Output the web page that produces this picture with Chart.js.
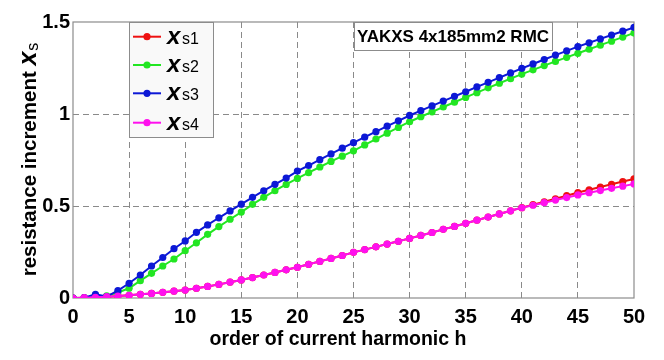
<!DOCTYPE html>
<html><head><meta charset="utf-8">
<script src="https://cdn.jsdelivr.net/npm/chart.js@4/dist/chart.umd.min.js"></script>
<style>html,body{margin:0;padding:0;background:#fff}#wrap{width:664px;height:360px}</style>
</head><body><div id="wrap"><canvas id="c" width="664" height="360"></canvas></div>
<script>
const harmonics = Array.from({length: 51}, (_, i) => i);
const xTicks = [0,5,10,15,20,25,30,35,40,45,50];
const yTicks = [0,0.5,1,1.5];
const seriesNames = ['s1','s2','s3','s4'];
const xs1 = [0,0.002,0.004,0.007,0.011,0.015,0.02,0.025,0.031,0.037,0.043,0.053,0.063,0.074,0.086,0.098,0.111,0.125,0.139,0.153,0.167,0.183,0.199,0.215,0.231,0.248,0.263,0.278,0.293,0.308,0.324,0.34,0.356,0.373,0.389,0.406,0.423,0.44,0.457,0.474,0.491,0.507,0.523,0.539,0.556,0.573,0.588,0.603,0.618,0.633,0.647];
const xs2 = [0,0,0.003,0.012,0.03,0.053,0.094,0.134,0.174,0.212,0.257,0.3,0.346,0.388,0.428,0.467,0.509,0.547,0.583,0.617,0.65,0.681,0.712,0.742,0.771,0.8,0.832,0.864,0.896,0.927,0.958,0.985,1.012,1.038,1.064,1.09,1.116,1.142,1.167,1.192,1.217,1.24,1.263,1.286,1.308,1.33,1.352,1.374,1.396,1.418,1.44];
const xs3 = [0,0.002,0.02,0.008,0.04,0.08,0.125,0.174,0.22,0.268,0.31,0.357,0.397,0.436,0.473,0.51,0.547,0.583,0.618,0.652,0.69,0.72,0.752,0.783,0.814,0.844,0.874,0.904,0.934,0.963,0.992,1.018,1.044,1.07,1.096,1.121,1.147,1.172,1.198,1.223,1.248,1.272,1.296,1.32,1.343,1.366,1.387,1.408,1.429,1.45,1.471];
const xs4 = [0,0.002,0.004,0.007,0.011,0.015,0.02,0.025,0.031,0.037,0.043,0.053,0.063,0.074,0.086,0.098,0.111,0.125,0.139,0.153,0.167,0.183,0.199,0.215,0.231,0.248,0.263,0.278,0.293,0.308,0.324,0.34,0.356,0.373,0.389,0.406,0.423,0.44,0.457,0.474,0.49,0.504,0.518,0.532,0.546,0.56,0.572,0.584,0.596,0.608,0.62];
const colors = ['#ee1111','#22e622','#0c18d6','#ff10ee'];
const allSeries = [xs1,xs2,xs3,xs4];
const yTitle = 'resistance increment ';
const xTitle = 'order of current harmonic h';
const boxText = 'YAKXS 4x185mm2 RMC';

const datasets = allSeries.map((s, k) => ({
  label: 'x' + seriesNames[k],
  data: harmonics.map((h, i) => ({x: h, y: s[i]})),
  borderColor: colors[k], backgroundColor: colors[k],
  borderWidth: 2, pointRadius: 3.6, pointHoverRadius: 3.6, pointBorderWidth: 0,
  order: 3 - k, tension: 0
}));

const FONT = "'Liberation Sans', Arial, sans-serif";

const deco = {
  id: 'deco',
  beforeDatasetsDraw(chart) {
    const {ctx, chartArea: a} = chart;
    ctx.save();
    ctx.strokeStyle = '#8c8c8c'; ctx.lineWidth = 1.2; ctx.setLineDash([]);
    ctx.strokeRect(a.left, a.top, a.right - a.left, a.bottom - a.top);
    ctx.restore();
  },
  afterDraw(chart) {
    const {ctx, chartArea: a} = chart;
    ctx.save();
    // x title
    ctx.fillStyle = '#000';
    ctx.font = 'bold 19.5px ' + FONT; ctx.textAlign = 'center'; ctx.textBaseline = 'middle';
    ctx.fillText(xTitle, 338, 340);
    // y title
    ctx.translate(36, (a.top + a.bottom) / 2);
    ctx.rotate(-Math.PI / 2);
    ctx.textBaseline = 'alphabetic';
    const f1 = 'bold 20.5px ' + FONT, f2 = 'bold italic 25px ' + FONT, f3 = '16px ' + FONT;
    ctx.font = f1; const w1 = ctx.measureText(yTitle).width;
    ctx.font = f2; const w2 = ctx.measureText('x').width;
    ctx.font = f3; const w3 = ctx.measureText('s').width;
    let x0 = -(w1 + w2 + w3) / 2;
    ctx.font = f1; ctx.textAlign = 'left'; ctx.fillText(yTitle, x0, 0);
    ctx.font = f2; ctx.fillText('x', x0 + w1, 0);
    ctx.font = f3; ctx.fillText('s', x0 + w1 + w2 + 1, 2);
    ctx.restore();

    // legend
    ctx.save();
    const lx = 129, ly = a.top, lw = 84, lh = 115;
    ctx.fillStyle = '#f9f9f9'; ctx.fillRect(lx, ly, lw, lh);
    ctx.strokeStyle = '#8c8c8c'; ctx.lineWidth = 1; ctx.strokeRect(lx + 0.5, ly + 0.5, lw, lh);
    const rows = [36.7, 65, 93.3, 122.7];
    rows.forEach((yy, k) => {
      ctx.strokeStyle = colors[k]; ctx.lineWidth = 2;
      ctx.beginPath(); ctx.moveTo(133, yy); ctx.lineTo(161, yy); ctx.stroke();
      ctx.fillStyle = colors[k];
      ctx.beginPath(); ctx.arc(147, yy, 3.6, 0, Math.PI * 2); ctx.fill();
      ctx.fillStyle = '#000'; ctx.textBaseline = 'alphabetic'; ctx.textAlign = 'left';
      ctx.font = 'bold italic 24px ' + FONT; ctx.fillText('x', 167, yy + 7);
      ctx.font = '16px ' + FONT; ctx.fillText(seriesNames[k], 182, yy + 7);
    });
    // annotation box
    const bx = 354, by = a.top, bw = 198, bh = 28;
    ctx.fillStyle = '#fff'; ctx.fillRect(bx, by, bw, bh);
    ctx.strokeStyle = '#8c8c8c'; ctx.lineWidth = 1; ctx.strokeRect(bx + 0.5, by + 0.5, bw, bh);
    ctx.fillStyle = '#000'; ctx.font = 'bold 17px ' + FONT; ctx.textAlign = 'center'; ctx.textBaseline = 'middle';
    ctx.fillText(boxText, bx + bw / 2, by + bh / 2 + 1);
    ctx.restore();
  }
};

const gridColor = (ctx) => {
  const v = ctx.tick && ctx.tick.value;
  const sc = ctx.scale;
  if (v === sc.min || v === sc.max) return 'rgba(0,0,0,0)';
  return '#8a8a8a';
};

new Chart(document.getElementById('c'), {
  type: 'line',
  data: {datasets},
  options: {
    responsive: false, animation: false, devicePixelRatio: 1,
    layout: {padding: {top: 22, right: 30, left: 0, bottom: 0}},
    plugins: {legend: {display: false}, tooltip: {enabled: false}},
    scales: {
      x: {
        type: 'linear', min: 0, max: 50,
        afterBuildTicks: (s) => { s.ticks = xTicks.map(v => ({value: v})); },
        afterFit: (s) => { s.height = 62; },
        grid: {color: gridColor, lineWidth: 1, drawTicks: false},
        border: {display: false, dash: [6, 4]},
        ticks: {color: '#000', font: {family: FONT, size: 20, weight: 'bold'}, padding: 7, maxRotation: 0, autoSkip: false}
      },
      y: {
        type: 'linear', min: 0, max: 1.5,
        afterBuildTicks: (s) => { s.ticks = yTicks.map(v => ({value: v})); },
        afterFit: (s) => { s.width = 73; },
        grid: {color: gridColor, lineWidth: 1, drawTicks: false},
        border: {display: false, dash: [6, 4]},
        ticks: {color: '#000', font: {family: FONT, size: 20, weight: 'bold'}, padding: 3, callback: (v) => String(v)}
      }
    }
  },
  plugins: [deco]
});
</script>
</body></html>
